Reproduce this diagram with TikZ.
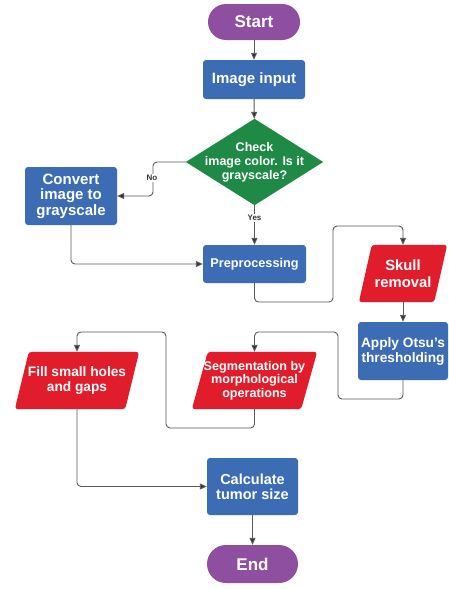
\documentclass[tikz,border=0pt]{standalone}
\usepackage{fontspec}
\setmainfont{Liberation Sans}
\usetikzlibrary{arrows.meta,backgrounds}
\definecolor{cpurple}{HTML}{8F4FA0}
\definecolor{cblue}{HTML}{3C6DB4}
\definecolor{cgreen}{HTML}{1F8A45}
\definecolor{cred}{HTML}{E21D2B}
\definecolor{cline}{HTML}{5A5A5A}
\definecolor{ctip}{HTML}{333333}
\begin{document}
\begin{tikzpicture}[x=1pt,y=-1pt,
  txt/.style={text=white, font=\bfseries, align=center, inner sep=0pt},
  box/.style={txt, rectangle, rounded corners=3pt, fill=cblue},
  term/.style={txt, rectangle, rounded corners=18pt, fill=cpurple, minimum width=92pt, minimum height=36pt},
  slot/.style={txt, rectangle},
  conn/.style={draw=cline, line width=0.9pt, rounded corners=4pt, -{Triangle[length=7pt,width=6pt,fill=ctip]}},
  lab/.style={fill=white, inner sep=1pt, font=\bfseries\fontsize{8}{9}\selectfont, text=black!80}
]
\useasboundingbox (0,0) rectangle (448,589);

\node[term, font=\bfseries\fontsize{17}{20}\selectfont] (start) at (254,22) {Start};
\node[box, minimum width=102pt, minimum height=39pt, font=\bfseries\fontsize{15}{17}\selectfont] (input) at (254,79.5) {Image input};
\node[slot, minimum width=137pt, minimum height=86pt, font=\bfseries\fontsize{12.5}{14}\selectfont] (dia) at (254.5,162) {Check\\image color. Is it\\grayscale?};
\node[box, minimum width=92pt, minimum height=58pt, font=\bfseries\fontsize{15}{15.5}\selectfont] (conv) at (71,196) {Convert\\image to\\grayscale};
\node[box, minimum width=103pt, minimum height=38pt, font=\bfseries\fontsize{12.7}{15}\selectfont] (prep) at (254.5,264) {Preprocessing};
\node[slot, minimum width=75pt, minimum height=57pt, font=\bfseries\fontsize{14.8}{16.7}\selectfont] (skull) at (403,273.5) {Skull\\removal};
\node[box, minimum width=90pt, minimum height=58pt, font=\bfseries\fontsize{13.7}{15}\selectfont] (otsu) at (403,351) {Apply Otsu's\\thresholding};
\node[slot, minimum width=109pt, minimum height=57pt, font=\bfseries\fontsize{12.6}{13.3}\selectfont] (seg) at (254.5,380.5) {Segmentation by\\morphological\\operations};
\node[slot, minimum width=110pt, minimum height=57pt, font=\bfseries\fontsize{13.7}{15}\selectfont] (fill) at (77,380.5) {Fill small holes\\and gaps};
\node[box, minimum width=91pt, minimum height=57pt, font=\bfseries\fontsize{14.5}{15}\selectfont] (calc) at (252.5,486.5) {Calculate\\tumor size};
\node[term, font=\bfseries\fontsize{17}{20}\selectfont, minimum width=91pt, minimum height=38pt, rounded corners=19pt] (end) at (252.5,564) {End};

\begin{pgfonlayer}{background}
  \fill[white] (0,0) rectangle (448,589);
  \fill[cgreen] (dia.north) -- (dia.east) -- (dia.south) -- (dia.west) -- cycle;
  \fill[cred, rounded corners=3pt] ([xshift=6.5pt]skull.north west) -- ([xshift=6.5pt]skull.north east) -- ([xshift=-6.5pt]skull.south east) -- ([xshift=-6.5pt]skull.south west) -- cycle;
  \fill[cred, rounded corners=3pt] ([xshift=8pt]seg.north west) -- ([xshift=8pt]seg.north east) -- ([xshift=-8pt]seg.south east) -- ([xshift=-8pt]seg.south west) -- cycle;
  \fill[cred, rounded corners=3pt] ([xshift=7pt]fill.north west) -- ([xshift=7pt]fill.north east) -- ([xshift=-7pt]fill.south east) -- ([xshift=-7pt]fill.south west) -- cycle;
\end{pgfonlayer}

\draw[conn] (start) -- (input);
\draw[conn] (input) -- (dia);
\draw[conn] (dia.west) -- (153,162) -- (153,196) -- (conv.east);
\node[lab] (no) at (152,178) {No};
\draw[conn] (dia.south) -- (prep.north);
\node[lab] (yes) at (254.5,218) {Yes};
\draw[conn] (conv.south) |- (prep.west);
\draw[conn] (prep.south) -- (254.5,302) -- (333,302) -- (333,226) -- (403,226) -- (skull.north);
\draw[conn] (skull) -- (otsu);
\draw[conn] (otsu.south) -- (403,399) -- (338,399) -- (338,332) -- (254.5,332) -- (seg.north);
\draw[conn] (seg.south) -- (254.5,428) -- (166,428) -- (166,332) -- (77,332) -- (fill.north);
\draw[conn] (fill.south) |- (calc.west);
\draw[conn] (calc) -- (end);
\end{tikzpicture}
\end{document}
